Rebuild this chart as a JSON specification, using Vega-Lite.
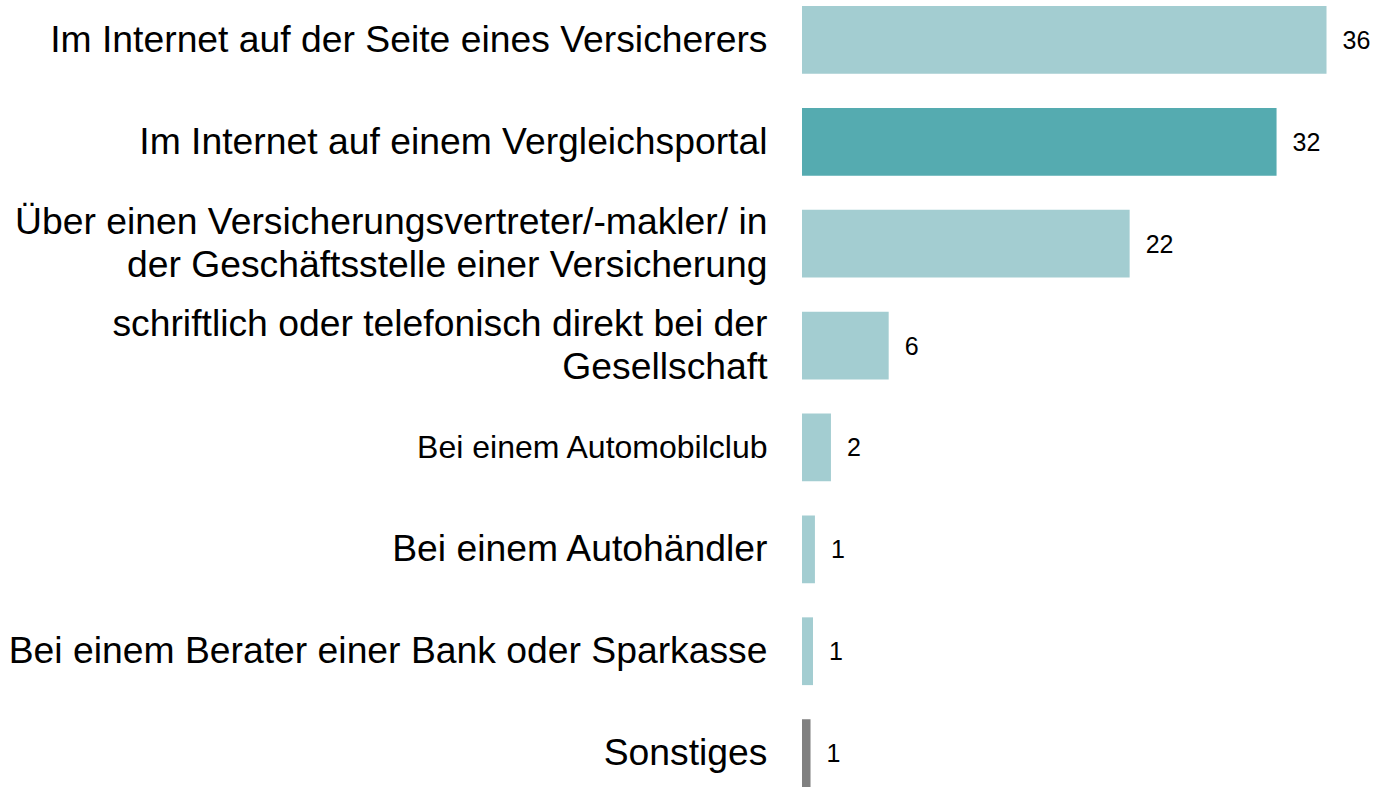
{
  "$schema": "https://vega.github.io/schema/vega-lite/v6.json",
  "autosize": {"type": "none"},
  "padding": {"left": 802, "top": 6, "right": 0, "bottom": 0},
  "width": 573,
  "height": 781,
  "background": "white",
  "config": {
    "view": {"stroke": null},
    "font": "Liberation Sans"
  },
  "data": {
    "values": [
      {"label": "Im Internet auf der Seite eines Versicherers", "value": 35.7, "group": "normal"},
      {"label": "Im Internet auf einem Vergleichsportal", "value": 32.3, "group": "highlight"},
      {"label": "Über einen Versicherungsvertreter/-makler/ in\nder Geschäftsstelle einer Versicherung", "value": 22.3, "group": "normal"},
      {"label": "schriftlich oder telefonisch direkt bei der\nGesellschaft", "value": 5.9, "group": "normal"},
      {"label": "Bei einem Automobilclub", "value": 1.97, "group": "normal"},
      {"label": "Bei einem Autohändler", "value": 0.88, "group": "normal"},
      {"label": "Bei einem Berater einer Bank oder Sparkasse", "value": 0.75, "group": "normal"},
      {"label": "Sonstiges", "value": 0.58, "group": "other"}
    ]
  },
  "encoding": {
    "y": {
      "field": "label",
      "type": "nominal",
      "sort": null,
      "scale": {"paddingInner": 0.335, "paddingOuter": 0},
      "axis": {
        "title": null,
        "ticks": false,
        "domain": false,
        "labelPadding": 35,
        "labelLimit": 0,
        "labelColor": "#000000",
        "labelFont": "Liberation Sans",
        "labelFontSize": {"condition": {"test": "datum.value == 'Bei einem Automobilclub'", "value": 32}, "value": 37.3},
        "labelOffset": {"condition": {"test": "indexof(datum.value, '\\n') >= 0", "value": -21}, "value": 1},
        "labelLineHeight": 43,
        "labelExpr": "split(datum.label, '\\n')"
      }
    },
    "x": {
      "field": "value",
      "type": "quantitative",
      "scale": {"domain": [0, 39]},
      "axis": null
    }
  },
  "layer": [
    {
      "mark": {"type": "bar"},
      "encoding": {
        "color": {
          "field": "group",
          "type": "nominal",
          "scale": {"domain": ["normal", "highlight", "other"], "range": ["#A3CDD1", "#55ABB0", "#808080"]},
          "legend": null
        }
      }
    },
    {
      "mark": {"type": "text", "align": "left", "baseline": "middle", "dx": 16, "dy": 1, "fontSize": 25, "font": "Liberation Sans", "color": "#000000"},
      "encoding": {
        "text": {"field": "value", "type": "quantitative", "format": ".0f"}
      }
    }
  ]
}
